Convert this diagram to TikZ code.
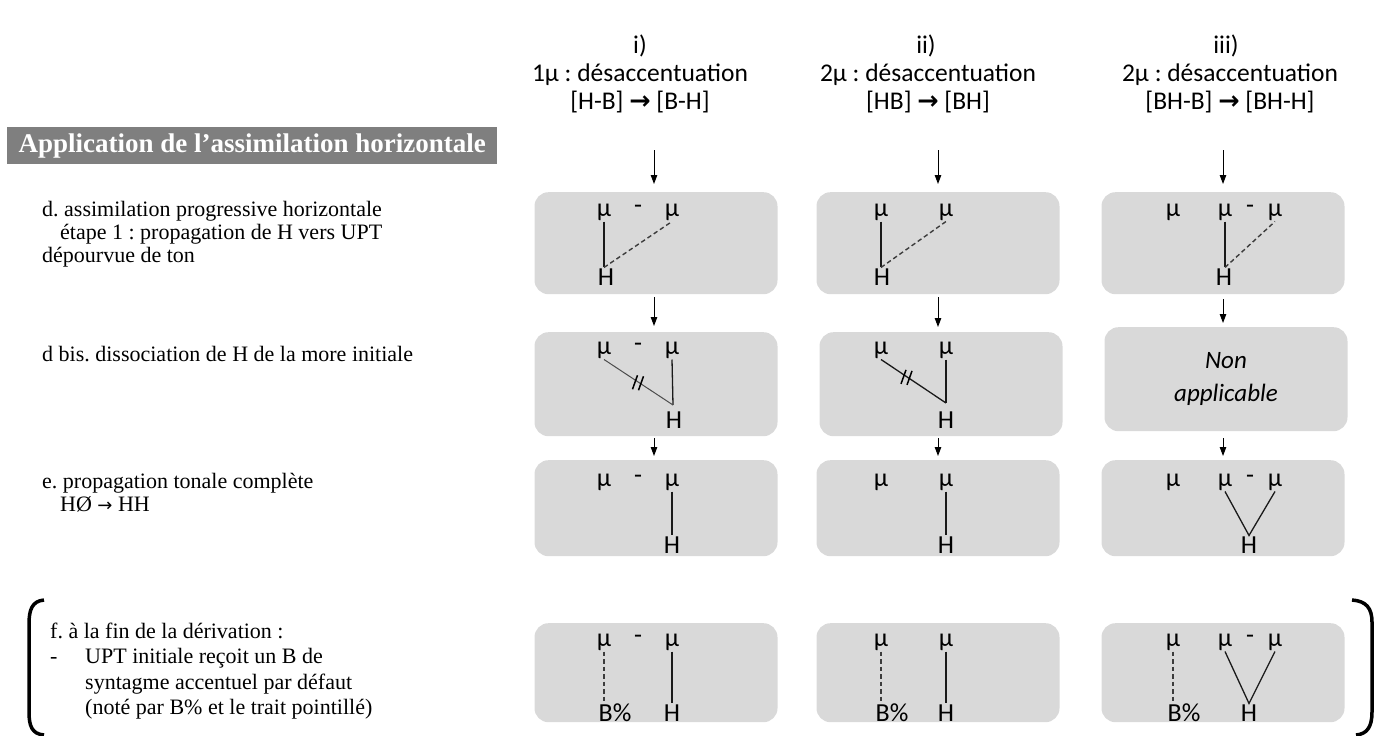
\documentclass[tikz,border=0pt]{standalone}
\usepackage{fontspec}
\setmainfont{Liberation Serif}
\newfontfamily\calib{Carlito}
\newfontfamily\dejav{DejaVu Sans}
\usetikzlibrary{arrows.meta}
\definecolor{boxgrey}{HTML}{D9D9D9}
\definecolor{titlegrey}{HTML}{7F7F7F}
\definecolor{ink}{HTML}{1A1A1A}
\frenchspacing
\begin{document}
\begin{tikzpicture}[x=1pt,y=-1pt,
  tbox/.style={fill=boxgrey, rounded corners=14pt, minimum width=243pt, anchor=north, inner sep=0pt},
  hdr/.style={font=\calib\fontsize{25.5}{28}\selectfont, anchor=base, inner sep=0pt},
  mu/.style={font=\calib\fontsize{26}{26}\selectfont, inner sep=1pt},
  lab/.style={font=\fontsize{22}{24}\selectfont, anchor=base west, inner sep=0pt},
  sline/.style={line width=1.3pt, ink},
  dline/.style={line width=1.4pt, ink!85, dash pattern=on 4.5pt off 3pt},
  gline/.style={line width=1pt, black!70},
  arr/.style={-{Triangle[length=9pt,width=6.5pt]}, line width=1pt, black},
  brk/.style={line width=3.5pt, black},
  cut/.style={line width=1.5pt, black}
]
\useasboundingbox (0,0) rectangle (1376,736);

% ---------- headers ----------
\node[hdr] (h1a) at (640,53) {i)};
\node[hdr] (h1b) at (640,81) {1µ : désaccentuation};
\node[hdr] (h1c) at (640,109) {[H-B] {\dejav\bfseries →} [B-H]};
\node[hdr] (h2a) at (926,53) {ii)};
\node[hdr] (h2b) at (928,81) {2µ : désaccentuation};
\node[hdr] (h2c) at (928,109) {[HB] {\dejav\bfseries →} [BH]};
\node[hdr] (h3a) at (1226,53) {iii)};
\node[hdr] (h3b) at (1230,81) {2µ : désaccentuation};
\node[hdr] (h3c) at (1230,109) {[BH-B] {\dejav\bfseries →} [BH-H]};

% ---------- title ----------
\node[fill=titlegrey, text=white, font=\bfseries\fontsize{27}{27}\selectfont,
      minimum width=490pt, minimum height=37pt, anchor=north west, inner sep=0pt]
      (title) at (7,127) {Application de l’assimilation horizontale};

% ---------- left labels ----------
\node[lab] (ld1) at (42,216) {d. assimilation progressive horizontale};
\node[lab] (ld2) at (60,239) {étape 1 : propagation de H vers UPT};
\node[lab] (ld3) at (42,262) {dépourvue de ton};
\node[lab] (ldb) at (42,361) {d bis. dissociation de H de la more initiale};
\node[lab] (le1) at (42,488) {e. propagation tonale complète};
\node[lab] (le2) at (60,511) {HØ {\dejav\fontsize{18}{18}\selectfont →} HH};
\node[lab] (lf1) at (50,638) {f. à la fin de la dérivation :};
\node[lab] (lf2) at (50,663) {-};
\node[lab] (lf3) at (85,663) {UPT initiale reçoit un B de};
\node[lab] (lf4) at (85,689) {syntagme accentuel par défaut};
\node[lab] (lf5) at (85,714) {(noté par B\% et le trait pointillé)};

% ---------- brackets ----------
\draw[brk] (44,600) .. controls (32,601) and (29,610) .. (29,624) -- (29,712)
           .. controls (29,726) and (32,734) .. (44,735);
\draw[brk] (1352,600) .. controls (1366,601) and (1372,608) .. (1372,622) -- (1372,712)
           .. controls (1372,727) and (1367,734) .. (1356,735);

% ---------- boxes ----------
\node[tbox, minimum height=102pt] (b11) at (656,192) {};
\node[tbox, minimum height=102pt] (b12) at (938,192) {};
\node[tbox, minimum height=102pt] (b13) at (1223,192) {};
\node[tbox, minimum height=104pt] (b21) at (656,332) {};
\node[tbox, minimum height=104pt] (b22) at (941,332) {};
\node[tbox, minimum height=104pt] (b23) at (1226,327) {};
\node[tbox, minimum height=96pt] (b31) at (656,460) {};
\node[tbox, minimum height=96pt] (b32) at (938,460) {};
\node[tbox, minimum height=96pt] (b33) at (1223,460) {};
\node[tbox, minimum height=99pt] (b41) at (656,623) {};
\node[tbox, minimum height=99pt] (b42) at (938,623) {};
\node[tbox, minimum height=99pt] (b43) at (1223,623) {};

% ---------- arrows ----------
\coordinate (s1) at (654,150);
\coordinate (s2) at (938,150);
\coordinate (s3) at (1223,150);
\draw[arr, shorten >=8pt] (s1) -- (b11.north -| s1);
\draw[arr, shorten >=8pt] (s2) -- (b12.north -| s2);
\draw[arr, shorten >=8pt] (s3) -- (b13.north -| s3);
\draw[arr, shorten <=3pt, shorten >=6pt] (b11.south -| s1) -- (b21.north -| s1);
\draw[arr, shorten <=3pt, shorten >=5pt] (b12.south -| s2) -- (b22.north -| s2);
\draw[arr, shorten <=5pt, shorten >=4pt] (b13.south -| s3) -- (b23.north -| s3);
\draw[arr, shorten <=2pt, shorten >=4pt] (b21.south -| s1) -- (b31.north -| s1);
\draw[arr, shorten <=2pt, shorten >=4pt] (b22.south -| s2) -- (b32.north -| s2);
\draw[arr, shorten <=7pt, shorten >=4pt] (b23.south -| s3) -- (b33.north -| s3);

% ---------- row 1 ----------
\node[mu] (m11a) at (604,212) {µ};
\node[mu] (m11d) at (638,209) {-};
\node[mu] (m11b) at (672,212) {µ};
\node[mu] (h11) at (606,277) {H};
\draw[sline] (m11a.south) -- (h11.north -| m11a);
\draw[dline] (h11.north -| m11a) -- (m11b.south);

\node[mu] (m12a) at (881,212) {µ};
\node[mu] (m12b) at (946,212) {µ};
\node[mu] (h12) at (882,277) {H};
\draw[sline] (m12a.south) -- (h12.north -| m12a);
\draw[dline] (h12.north -| m12a) -- (m12b.south);

\node[mu] (m13a) at (1173,212) {µ};
\node[mu] (m13b) at (1225,212) {µ};
\node[mu] (m13d) at (1250,209) {-};
\node[mu] (m13c) at (1275,212) {µ};
\node[mu] (h13) at (1224,277) {H};
\draw[sline] (m13b.south) -- (h13.north -| m13b);
\draw[dline] (h13.north -| m13b) -- (m13c.south);

% ---------- row 2 ----------
\node[mu] (m21a) at (604,350) {µ};
\node[mu] (m21d) at (638,347) {-};
\node[mu] (m21b) at (672,350) {µ};
\node[mu] (h21) at (674,420) {H};
\coordinate (v21) at (673,405);
\draw[sline] (m21b.south) -- (v21);
\draw[gline] (m21a.south) -- (v21) coordinate[pos=0.5] (x21);
\draw[cut] ([shift={(-6,7)}]x21) -- ([shift={(-1,-7)}]x21);
\draw[cut] ([shift={(0,8)}]x21) -- ([shift={(5,-6)}]x21);

\node[mu] (m22a) at (881,350) {µ};
\node[mu] (m22b) at (946,350) {µ};
\node[mu] (h22) at (946,420) {H};
\coordinate (v22) at (946,403);
\draw[sline] (m22b.south) -- (v22);
\draw[sline] (m22a.south) -- (v22) coordinate[pos=0.4] (x22);
\draw[cut] ([shift={(-6,7)}]x22) -- ([shift={(-1,-7)}]x22);
\draw[cut] ([shift={(0,8)}]x22) -- ([shift={(5,-6)}]x22);

\node[font=\calib\itshape\fontsize{25}{33}\selectfont, align=center, inner sep=0pt]
     (na) at (b23.center) {Non\\applicable};

% ---------- row 3 ----------
\node[mu] (m31a) at (604,482) {µ};
\node[mu] (m31d) at (638,479) {-};
\node[mu] (m31b) at (672,482) {µ};
\node[mu] (h31) at (672,545) {H};
\draw[sline] (m31b.south) -- (h31.north);

\node[mu] (m32a) at (881,482) {µ};
\node[mu] (m32b) at (946,482) {µ};
\node[mu] (h32) at (946,545) {H};
\draw[sline] (m32b.south) -- (h32.north);

\node[mu] (m33a) at (1173,482) {µ};
\node[mu] (m33b) at (1225,482) {µ};
\node[mu] (m33d) at (1250,479) {-};
\node[mu] (m33c) at (1275,482) {µ};
\node[mu] (h33) at (1249,545) {H};
\draw[sline] (m33b.south) -- (h33.north) -- (m33c.south);

% ---------- row 4 ----------
\node[mu] (m41a) at (604,642) {µ};
\node[mu] (m41d) at (638,639) {-};
\node[mu] (m41b) at (672,642) {µ};
\node[mu] (bp41) at (615,713) {B\%};
\node[mu] (h41) at (672,713) {H};
\draw[dline] (m41a.south) -- (bp41.north -| m41a);
\draw[sline] (m41b.south) -- (h41.north);

\node[mu] (m42a) at (881,642) {µ};
\node[mu] (m42b) at (946,642) {µ};
\node[mu] (bp42) at (892,713) {B\%};
\node[mu] (h42) at (946,713) {H};
\draw[dline] (m42a.south) -- (bp42.north -| m42a);
\draw[sline] (m42b.south) -- (h42.north);

\node[mu] (m43a) at (1173,642) {µ};
\node[mu] (m43b) at (1225,642) {µ};
\node[mu] (m43d) at (1250,639) {-};
\node[mu] (m43c) at (1275,642) {µ};
\node[mu] (bp43) at (1184,713) {B\%};
\node[mu] (h43) at (1249,713) {H};
\draw[dline] (m43a.south) -- (bp43.north -| m43a);
\draw[sline] (m43b.south) -- (h43.north) -- (m43c.south);
\end{tikzpicture}
\end{document}
